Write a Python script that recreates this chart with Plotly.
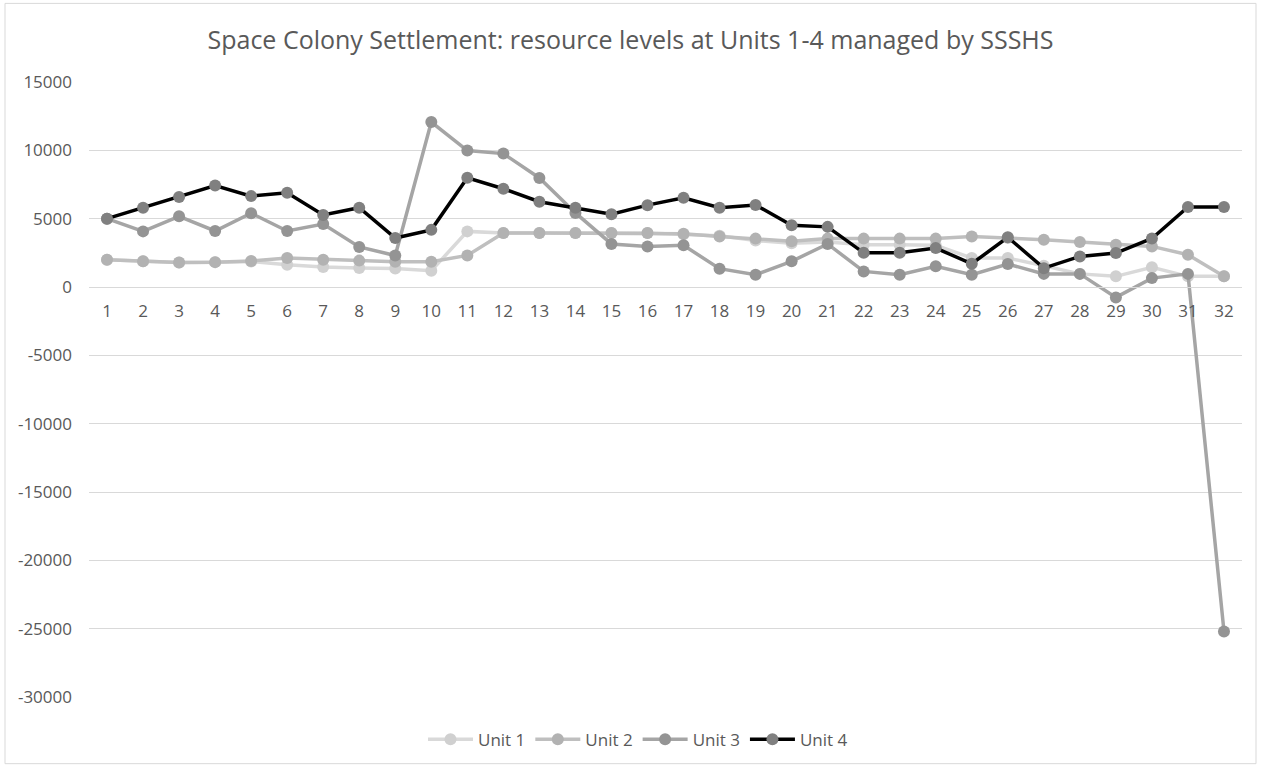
import plotly.graph_objects as go

# Settlement periods along the horizontal axis
periods = list(range(1, 33))
period_labels = [str(p) for p in periods]

# Resource levels per unit
unit1 = [2000, 1880, 1800, 1820, 1870, 1630, 1460, 1390, 1350, 1190,
         4070, 3950, 3950, 3950, 3950, 3950, 3850, 3750, 3400, 3200,
         3300, 3100, 3100, 3050, 2120, 2120, 1560, 960, 780, 1440,
         780, 780]
unit2 = [2000, 1880, 1800, 1820, 1900, 2120, 2000, 1930, 1850, 1850,
         2310, 3950, 3950, 3950, 3950, 3950, 3900, 3700, 3540, 3340,
         3540, 3540, 3540, 3540, 3700, 3600, 3460, 3290, 3100, 2970,
         2360, 780]
unit3 = [5000, 4070, 5170, 4100, 5400, 4100, 4610, 2930, 2300, 12070,
         9980, 9760, 7980, 5420, 3150, 2970, 3050, 1340, 900, 1880,
         3150, 1140, 900, 1510, 900, 1680, 960, 960, -760, 650,
         960, -25200]
unit4 = [5000, 5800, 6580, 7430, 6650, 6890, 5270, 5800, 3580, 4180,
         7990, 7190, 6240, 5800, 5320, 5990, 6530, 5800, 6000, 4520,
         4400, 2500, 2500, 2850, 1700, 3640, 1380, 2240, 2480, 3550,
         5850, 5850]

y_ticks = list(range(-30000, 15001, 5000))
y_tick_labels = [str(v) for v in y_ticks]

series = [
    ("Unit 1", unit1, "#d9d9d9", "#d0d0d0"),
    ("Unit 2", unit2, "#bfbfbf", "#b2b2b2"),
    ("Unit 3", unit3, "#a5a5a5", "#949494"),
    ("Unit 4", unit4, "#000000", "#808080"),
]

FONT = "Open Sans"
TEXT = "#595959"

fig = go.Figure()
for name, vals, line_col, mark_col in series:
    fig.add_trace(go.Scatter(
        x=periods, y=vals, name=name, mode="lines+markers",
        line=dict(color=line_col, width=3.5),
        marker=dict(color=mark_col, size=12, line=dict(width=0)),
    ))

y_min, y_max = -30000, 15000
zero_pos = (0 - y_min) / (y_max - y_min)

fig.update_layout(
    width=1261, height=770,
    margin=dict(l=89, r=19, t=82, b=70),
    paper_bgcolor="white", plot_bgcolor="white",
    font=dict(family=FONT, color=TEXT, size=17),
    title=dict(text="Space Colony Settlement: resource levels at Units 1-4 managed by SSSHS",
               x=0.5, xanchor="center", y=1 - 40 / 770, yanchor="middle",
               font=dict(size=25, color=TEXT, family=FONT)),
    showlegend=True,
    legend=dict(orientation="h", x=(638 - 89) / 1153, xanchor="center",
                y=(700 - 743) / 618, yanchor="middle",
                font=dict(size=17, color=TEXT), itemwidth=45,
                bgcolor="rgba(0,0,0,0)"),
    xaxis=dict(
        range=[0.5, 32.5], tickmode="array", tickvals=periods, ticktext=period_labels,
        showgrid=False, zeroline=False, showline=True, linecolor="#d9d9d9", linewidth=1,
        anchor="free", position=zero_pos, ticks="", ticklabelstandoff=9,
        tickfont=dict(size=17, color=TEXT),
    ),
    yaxis=dict(
        range=[y_min, y_max], tickmode="array", tickvals=y_ticks, ticktext=y_tick_labels,
        showgrid=True, gridcolor="#d9d9d9", gridwidth=1, zeroline=False,
        showline=False, ticks="", ticklabelstandoff=16,
        tickfont=dict(size=17, color=TEXT),
    ),
    shapes=[dict(type="rect", xref="paper", yref="paper",
                 x0=(5 - 89) / 1153, x1=(1256 - 89) / 1153,
                 y0=(700 - 767) / 618, y1=(700 - 3) / 618,
                 line=dict(color="#d9d9d9", width=1), layer="below")],
)

fig.write_html("out.html")
